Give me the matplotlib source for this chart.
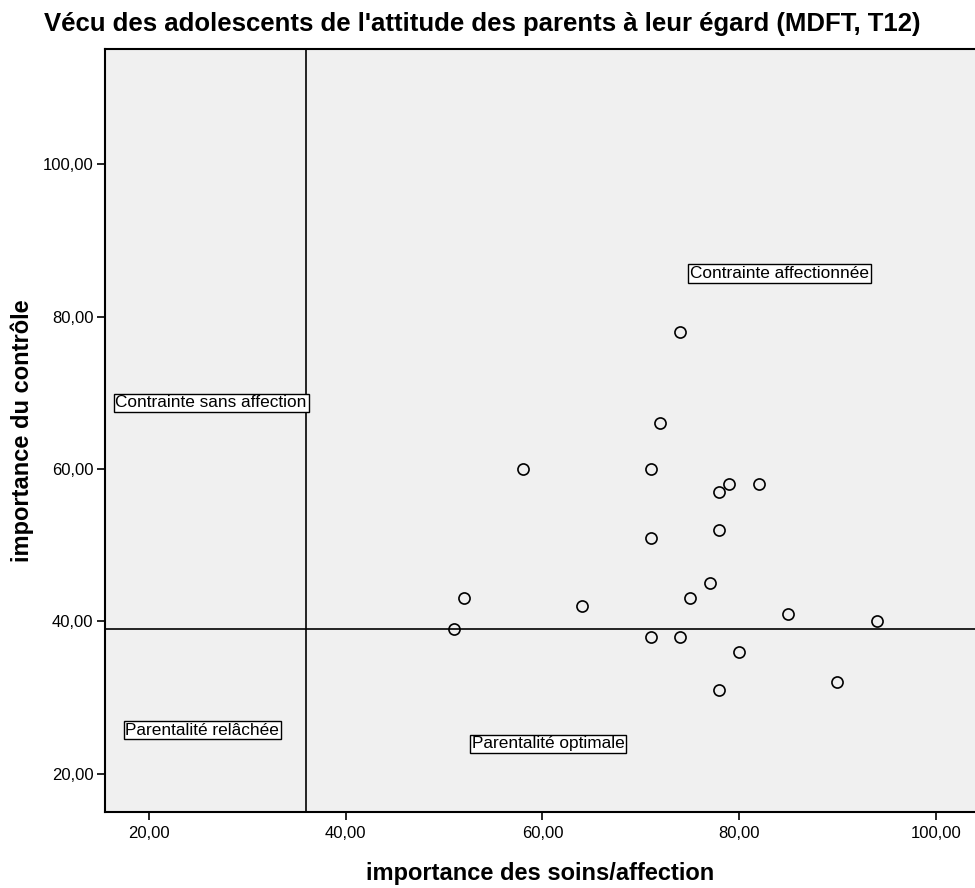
import matplotlib
matplotlib.use("Agg")
import matplotlib.pyplot as plt

plt.rcParams['font.family'] = ['Liberation Sans', 'DejaVu Sans']

# Scores per adolescent: care/affection (x) vs. control (y)
soins = [74, 72, 58, 71, 79, 82, 78, 78, 71, 77, 52, 75, 64, 85, 94, 51, 71, 74, 80, 90, 78]
controle = [78, 66, 60, 60, 58, 58, 57, 52, 51, 45, 43, 43, 42, 41, 40, 39, 38, 38, 36, 32, 31]

# Reference lines splitting the quadrants
ref_soins = 36
ref_controle = 39

quadrant_labels = ["Contrainte affectionnée", "Contrainte sans affection",
                   "Parentalité relâchée", "Parentalité optimale"]
label_x = [84.1, 26.3, 25.4, 60.6]
label_y = [85.7, 68.7, 25.7, 23.9]

x_ticks = [20, 40, 60, 80, 100]
y_ticks = [20, 40, 60, 80, 100]

fig = plt.figure(figsize=(9.75, 8.88), dpi=100)
ax = fig.add_axes([0.1072, 0.0856, 0.8928, 0.8592])
ax.set_facecolor('#f0f0f0')

ax.axvline(ref_soins, color='black', lw=1.2, zorder=1)
ax.axhline(ref_controle, color='black', lw=1.2, zorder=1)

ax.plot(soins, controle, linestyle='none', marker='o', markersize=8,
        markerfacecolor='none', markeredgecolor='black', markeredgewidth=1.2, zorder=3)

for txt, lx, ly in zip(quadrant_labels, label_x, label_y):
    ax.text(lx, ly, txt, ha='center', va='center', fontsize=12.4, zorder=4,
            bbox=dict(boxstyle='square,pad=0.1', facecolor='white',
                      edgecolor='black', linewidth=1.0))

ax.set_xlim(15.46, 104.0)
ax.set_ylim(14.96, 115.15)
ax.set_xticks(x_ticks)
ax.set_yticks(y_ticks)
ax.set_xticklabels([f"{v},00" for v in x_ticks], fontsize=12)
ax.set_yticklabels([f"{v},00" for v in y_ticks], fontsize=12)
ax.tick_params(direction='out', length=6, width=1.2, color='black', pad=2)
ax.tick_params(axis='x', pad=4)

for side in ['left', 'bottom', 'top']:
    ax.spines[side].set_linewidth(1.5)
    ax.spines[side].set_color('black')
ax.spines['right'].set_visible(False)

ax.set_xlabel("importance des soins/affection", fontsize=17, fontweight='bold', labelpad=15)
ax.set_ylabel("importance du contrôle", fontsize=17, fontweight='bold', labelpad=6)

fig.text(0.495, 0.973, "Vécu des adolescents de l'attitude des parents à leur égard (MDFT, T12)",
         ha='center', va='center', fontsize=18.5, fontweight='bold')

fig.savefig("out.png", dpi=100)
